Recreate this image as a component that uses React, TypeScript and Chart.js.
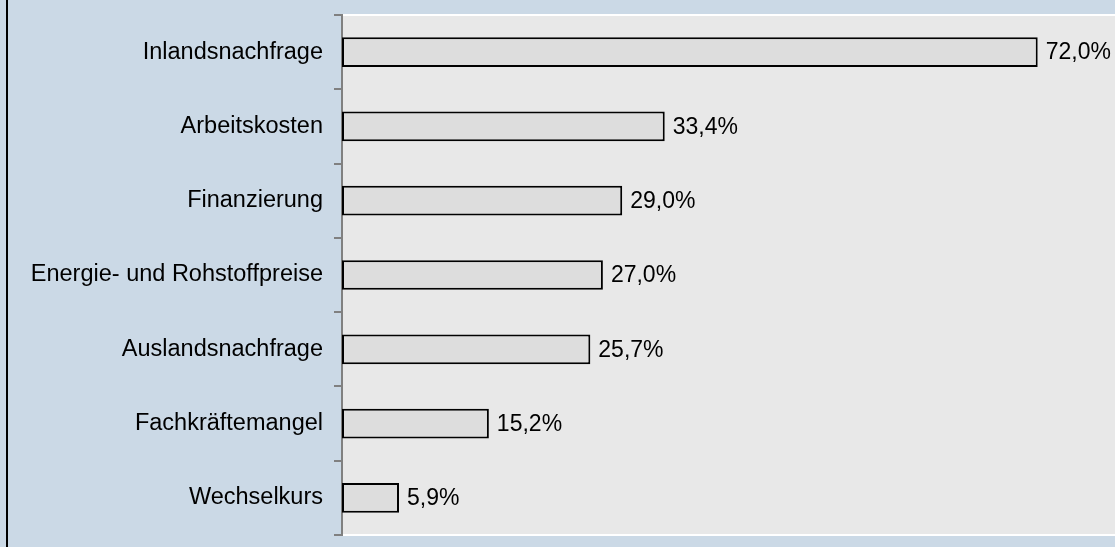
import React, { useEffect, useRef } from "react";
import { Chart, registerables } from "chart.js";

Chart.register(...registerables);

const categories = [
  "Inlandsnachfrage",
  "Arbeitskosten",
  "Finanzierung",
  "Energie- und Rohstoffpreise",
  "Auslandsnachfrage",
  "Fachkräftemangel",
  "Wechselkurs",
];
const values = [72.0, 33.4, 29.0, 27.0, 25.7, 15.2, 5.9];
const axisMin = 0;
const axisMax = 80;

const FONT = "Liberation Sans, Arial, sans-serif";
const LABEL_SIZE = 23.5;
const VALUE_SIZE = 23;

const fmt = (v: number) => v.toFixed(1).replace(".", ",") + "%";

const backgroundPlugin = {
  id: "bgPlugin",
  beforeDraw(chart: any) {
    const { ctx, width, height, chartArea } = chart;
    ctx.save();
    ctx.fillStyle = "#cbd9e6";
    ctx.fillRect(0, 0, width, height);
    ctx.fillStyle = "#000000";
    ctx.fillRect(6, 0, 2, height);
    ctx.fillStyle = "#e8e8e8";
    ctx.fillRect(chartArea.left, chartArea.top, chartArea.right - chartArea.left, chartArea.bottom - chartArea.top);
    ctx.fillStyle = "#ffffff";
    ctx.fillRect(chartArea.left, chartArea.top - 1, chartArea.right - chartArea.left, 2);
    ctx.fillRect(chartArea.left, chartArea.bottom - 1, chartArea.right - chartArea.left, 2);
    ctx.restore();
  },
};

const valueLabelPlugin = {
  id: "valueLabels",
  afterDatasetsDraw(chart: any) {
    const { ctx } = chart;
    const meta = chart.getDatasetMeta(0);
    ctx.save();
    ctx.font = `${VALUE_SIZE}px ${FONT}`;
    ctx.fillStyle = "#000000";
    ctx.textAlign = "left";
    ctx.textBaseline = "middle";
    meta.data.forEach((bar: any, i: number) => {
      const v = chart.data.datasets[0].data[i] as number;
      ctx.fillText(fmt(v), bar.x + 8, bar.y + 1);
    });
    ctx.restore();
  },
};

export default function App() {
  const canvasRef = useRef<HTMLCanvasElement | null>(null);

  useEffect(() => {
    if (!canvasRef.current) return;
    const chart = new Chart(canvasRef.current, {
      type: "bar",
      data: {
        labels: categories,
        datasets: [
          {
            data: values,
            backgroundColor: "#dddddd",
            borderColor: "#000000",
            borderWidth: 2,
            borderSkipped: false,
            barPercentage: 0.4,
            categoryPercentage: 1.0,
          },
        ],
      },
      options: {
        indexAxis: "y",
        animation: false,
        responsive: false,
        maintainAspectRatio: false,
        layout: { padding: { top: 15, bottom: 12, left: 0, right: 0 } },
        plugins: {
          legend: { display: false },
          tooltip: { enabled: false },
          title: { display: false },
        },
        scales: {
          x: {
            display: false,
            min: axisMin,
            max: axisMax,
          },
          y: {
            afterFit(scale: any) {
              scale.width = 342;
              scale.paddingTop = 0;
              scale.paddingBottom = 0;
            },
            grid: {
              offset: true,
              drawOnChartArea: false,
              drawTicks: true,
              tickLength: 8,
              color: "#808080",
              lineWidth: 2,
            },
            border: { display: true, color: "#808080", width: 2 },
            ticks: {
              color: "#000000",
              padding: 11,
              font: { family: FONT, size: LABEL_SIZE },
            },
          },
        },
      },
      plugins: [backgroundPlugin, valueLabelPlugin],
    });
    return () => chart.destroy();
  }, []);

  return (
    <div style={{ position: "fixed", left: 0, top: 0, width: 1115, height: 547 }}>
      <canvas ref={canvasRef} width={1115} height={547} style={{ width: 1115, height: 547, display: "block" }} />
    </div>
  );
}
